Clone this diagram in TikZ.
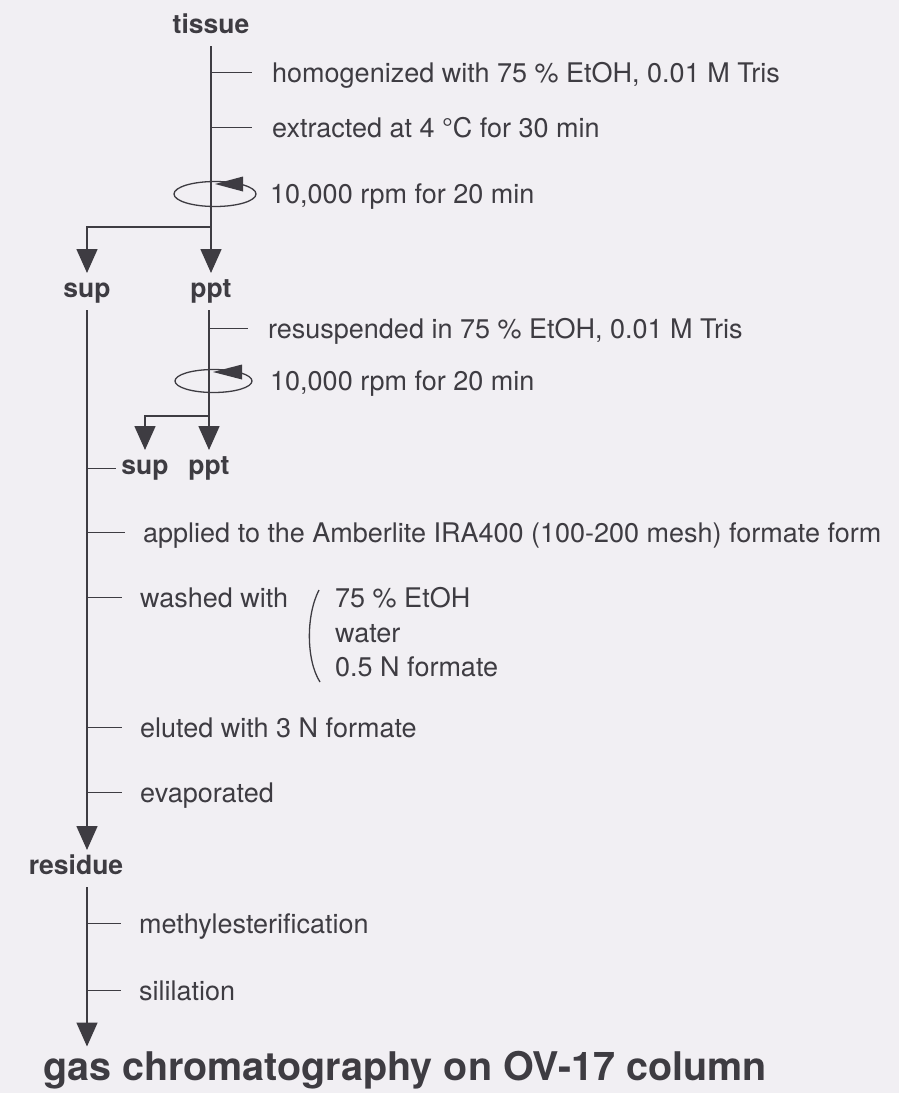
\documentclass[tikz,border=0pt]{standalone}
\usepackage{fontspec}
\setmainfont{TeX Gyre Heros}
\usetikzlibrary{arrows.meta, positioning, calc}
\definecolor{inkgray}{RGB}{62,60,66}
\definecolor{papergray}{RGB}{241,239,243}
\tikzset{
    stage/.style={anchor=base, font=\fontsize{26.5}{30}\selectfont\bfseries, text=inkgray, inner sep=0pt, outer sep=5pt, text height=19pt, text depth=8pt},
    stepnote/.style={anchor=base west, font=\fontsize{27}{33}\selectfont, text=inkgray, inner sep=0pt, text height=19.4pt, text depth=0pt},
    flowline/.style={draw=inkgray, line width=1.6pt},
    flowarrow/.style={flowline, -{Triangle[length=24pt, width=21pt]}},
    tickline/.style={draw=inkgray, line width=1.3pt, shorten >=#1},
    tickline/.default=19pt,
    spinline/.style={draw=inkgray, line width=1.3pt}
}

\begin{document}
\begin{tikzpicture}[x=1pt, y=-1pt]

\fill[papergray] (0,0) rectangle (899,1093);
\useasboundingbox (0,0) rectangle (899,1093);

% stages
\node[stage] (tissue) at (211,33) {tissue};
\node[stage] (sup1) at (87,297) {sup};
\node[stage] (ppt1) at (211,297) {ppt};
\node[stage] (sup2) at (145,474) {sup};
\node[stage] (ppt2) at (209,474) {ppt};
\node[stage] (residue) at (76,874) {residue};
\node[stage, anchor=base west, font=\fontsize{39.5}{44}\selectfont\bfseries, text height=28.5pt] (gc) at (38,1080) {gas chromatography on OV-17 column};

% first extraction
\node[stepnote] (h1) at (272,82) {homogenized with 75 \% EtOH, 0.01 M Tris};
\node[stepnote] (x1) at (272,137) {extracted at 4 °C for 30 min};
\node[stepnote] (r1) at (270,203) {10,000 rpm for 20 min};

% second extraction
\node[stepnote] (u1) at (268,338) {resuspended in 75 \% EtOH, 0.01 M Tris};
\node[stepnote] (r2) at (270,390) {10,000 rpm for 20 min};

% column steps
\node[stepnote] (a1) at (143,542) {applied to the Amberlite IRA400 (100-200 mesh) formate form};
\node[stepnote] (w1) at (140,607) {washed with};
\node[stepnote] (l1) at (335,607) {75 \% EtOH};
\node[stepnote] (l2) at (335,642) {water};
\node[stepnote] (l3) at (335,676) {0.5 N formate};
\node[stepnote] (e1) at (140,737) {eluted with 3 N formate};
\node[stepnote] (v1) at (140,802) {evaporated};
\node[stepnote] (m1) at (139,933) {methylesterification};
\node[stepnote] (s1) at (139,1000) {sililation};

\coordinate (split1) at (211,227);
\coordinate (split2) at (209,416);

% main flow
\draw[flowarrow] (tissue) -- (ppt1);
\draw[flowarrow] (split1) -| (sup1);
\draw[flowarrow] (ppt1.south -| ppt2) -- (ppt2);
\draw[flowarrow] (split2) -| (sup2);
\draw[flowarrow] (sup1) -- (sup1 |- residue.north);
\draw[flowarrow] (residue.south -| sup1) -- (gc.north -| sup1);
\draw[flowline] (sup2.west -| sup1) -- (sup2.west);

% ticks
\draw[tickline=20pt] (h1.west -| tissue) -- (h1.west);
\draw[tickline=20pt] (x1.west -| tissue) -- (x1.west);
\draw[tickline=20pt] (u1.west -| ppt2) -- (u1.west);
\draw[tickline=18pt] (a1.west -| sup1) -- (a1.west);
\draw[tickline=18pt] (w1.west -| sup1) -- (w1.west);
\draw[tickline=18pt] (e1.west -| sup1) -- (e1.west);
\draw[tickline=18pt] (v1.west -| sup1) -- (v1.west);
\draw[tickline=18pt] (m1.west -| sup1) -- (m1.west);
\draw[tickline=18pt] (s1.west -| sup1) -- (s1.west);

% centrifuge symbols
\draw[spinline] (215,194) ellipse [x radius=41, y radius=12.5];
\fill[inkgray] (215,184) -- (243,176.5) -- (243,191.5) -- cycle;
\draw[spinline] (213.5,381) ellipse [x radius=38.5, y radius=11.5];
\fill[inkgray] (213,372) -- (242,364.5) -- (242,379.5) -- cycle;

% bracket of washes
\draw[spinline] (319,590) .. controls (306,615) and (306,660) .. (320,682);

\end{tikzpicture}
\end{document}
